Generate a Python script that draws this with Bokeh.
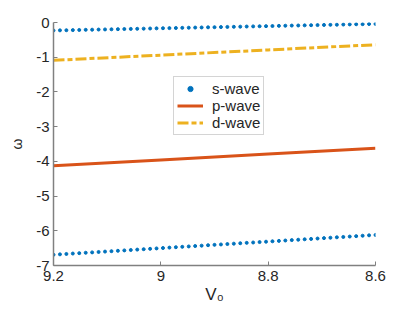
from bokeh.plotting import figure
from bokeh.models import Range1d, FixedTicker, Legend, LegendItem
from bokeh.embed import file_html
from bokeh.resources import INLINE

V0 = [9.200, 9.188, 9.176, 9.164, 9.152, 9.140, 9.128, 9.116, 9.104, 9.092,
      9.080, 9.068, 9.056, 9.044, 9.032, 9.020, 9.008, 8.996, 8.984, 8.972,
      8.960, 8.948, 8.936, 8.924, 8.912, 8.900, 8.888, 8.876, 8.864, 8.852,
      8.840, 8.828, 8.816, 8.804, 8.792, 8.780, 8.768, 8.756, 8.744, 8.732,
      8.720, 8.708, 8.696, 8.684, 8.672, 8.660, 8.648, 8.636, 8.624, 8.612,
      8.600]

s_upper = [-0.230, -0.226, -0.222, -0.219, -0.215, -0.211, -0.207, -0.203, -0.200, -0.196,
           -0.192, -0.188, -0.184, -0.181, -0.177, -0.173, -0.169, -0.165, -0.162, -0.158,
           -0.154, -0.150, -0.146, -0.143, -0.139, -0.135, -0.131, -0.127, -0.124, -0.120,
           -0.116, -0.112, -0.108, -0.105, -0.101, -0.097, -0.093, -0.089, -0.086, -0.082,
           -0.078, -0.074, -0.070, -0.067, -0.063, -0.059, -0.055, -0.051, -0.048, -0.044,
           -0.040]

s_lower = [-6.690, -6.679, -6.667, -6.656, -6.644, -6.633, -6.622, -6.610, -6.599, -6.587,
           -6.576, -6.565, -6.553, -6.542, -6.530, -6.519, -6.508, -6.496, -6.485, -6.473,
           -6.462, -6.451, -6.439, -6.428, -6.416, -6.405, -6.394, -6.382, -6.371, -6.359,
           -6.348, -6.337, -6.325, -6.314, -6.302, -6.291, -6.280, -6.268, -6.257, -6.245,
           -6.234, -6.223, -6.211, -6.200, -6.188, -6.177, -6.166, -6.154, -6.143, -6.131,
           -6.120]

V0_line = [9.2, 9.0, 8.8, 8.6]
p_wave = [-4.13, -3.96, -3.79, -3.62]
d_wave = [-1.09, -0.94, -0.79, -0.64]

x_ticks = [9.2, 9.0, 8.8, 8.6]
x_tick_labels = ["9.2", "9", "8.8", "8.6"]
y_ticks = [0, -1, -2, -3, -4, -5, -6, -7]
y_tick_labels = ["0", "-1", "-2", "-3", "-4", "-5", "-6", "-7"]

FONT = "Liberation Sans"
AX = "#808080"
TXT = "#262626"

p = figure(frame_width=322, frame_height=243, output_backend="svg", toolbar_location=None,
           x_range=Range1d(9.2, 8.6), y_range=Range1d(-7, 0),
           min_border_left=53, min_border_right=38, min_border_top=22, min_border_bottom=45)
p.outline_line_color = None
p.xgrid.visible = False
p.ygrid.visible = False

r_s1 = p.scatter(V0, s_upper, size=3, color="#0072BD")
r_s2 = p.scatter(V0, s_lower, size=3, color="#0072BD")
r_p = p.line(V0_line, p_wave, line_width=3, color="#D95319")
r_d = p.line(V0_line, d_wave, line_width=3, color="#EDB120", line_dash="11 3 5 3")

p.xaxis.ticker = FixedTicker(ticks=x_ticks)
p.xaxis.major_label_overrides = {t: l for t, l in zip(x_ticks, x_tick_labels)}
p.yaxis.ticker = FixedTicker(ticks=y_ticks)
p.yaxis.major_label_overrides = {t: l for t, l in zip(y_ticks, y_tick_labels)}

for ax in (p.xaxis, p.yaxis):
    ax.axis_line_color = AX
    ax.axis_line_width = 1.5
    ax.major_tick_line_color = AX
    ax.major_tick_in = 4
    ax.major_tick_out = 0
    ax.minor_tick_line_color = None
    ax.major_label_text_font = FONT
    ax.major_label_text_font_size = "15px"
    ax.major_label_text_color = TXT
    ax.axis_label_text_font = FONT
    ax.axis_label_text_font_style = "normal"
    ax.axis_label_text_color = TXT

p.xaxis.axis_label = "V\u2080"
p.xaxis.axis_label_text_font_size = "17px"
p.xaxis.major_label_standoff = 5
p.xaxis.axis_label_standoff = 1
p.yaxis.axis_label = "\u03c9"
p.yaxis.axis_label_text_font_size = "14px"
p.yaxis.major_label_standoff = 4
p.yaxis.axis_label_standoff = 8

legend = Legend(items=[LegendItem(label="s-wave", renderers=[r_s1]),
                       LegendItem(label="p-wave", renderers=[r_p]),
                       LegendItem(label="d-wave", renderers=[r_d])],
                location=(120, 130))
legend.label_text_font = FONT
legend.label_text_font_size = "15px"
legend.label_text_color = TXT
legend.label_height = 13
legend.glyph_height = 13
legend.glyph_width = 26
legend.label_standoff = 9
legend.spacing = -3
legend.padding = 3
legend.margin = 0
legend.border_line_color = "#AAAAAA"
legend.border_line_width = 1
legend.background_fill_alpha = 1
p.add_layout(legend)

open("out.html", "w").write(file_html(p, INLINE))
